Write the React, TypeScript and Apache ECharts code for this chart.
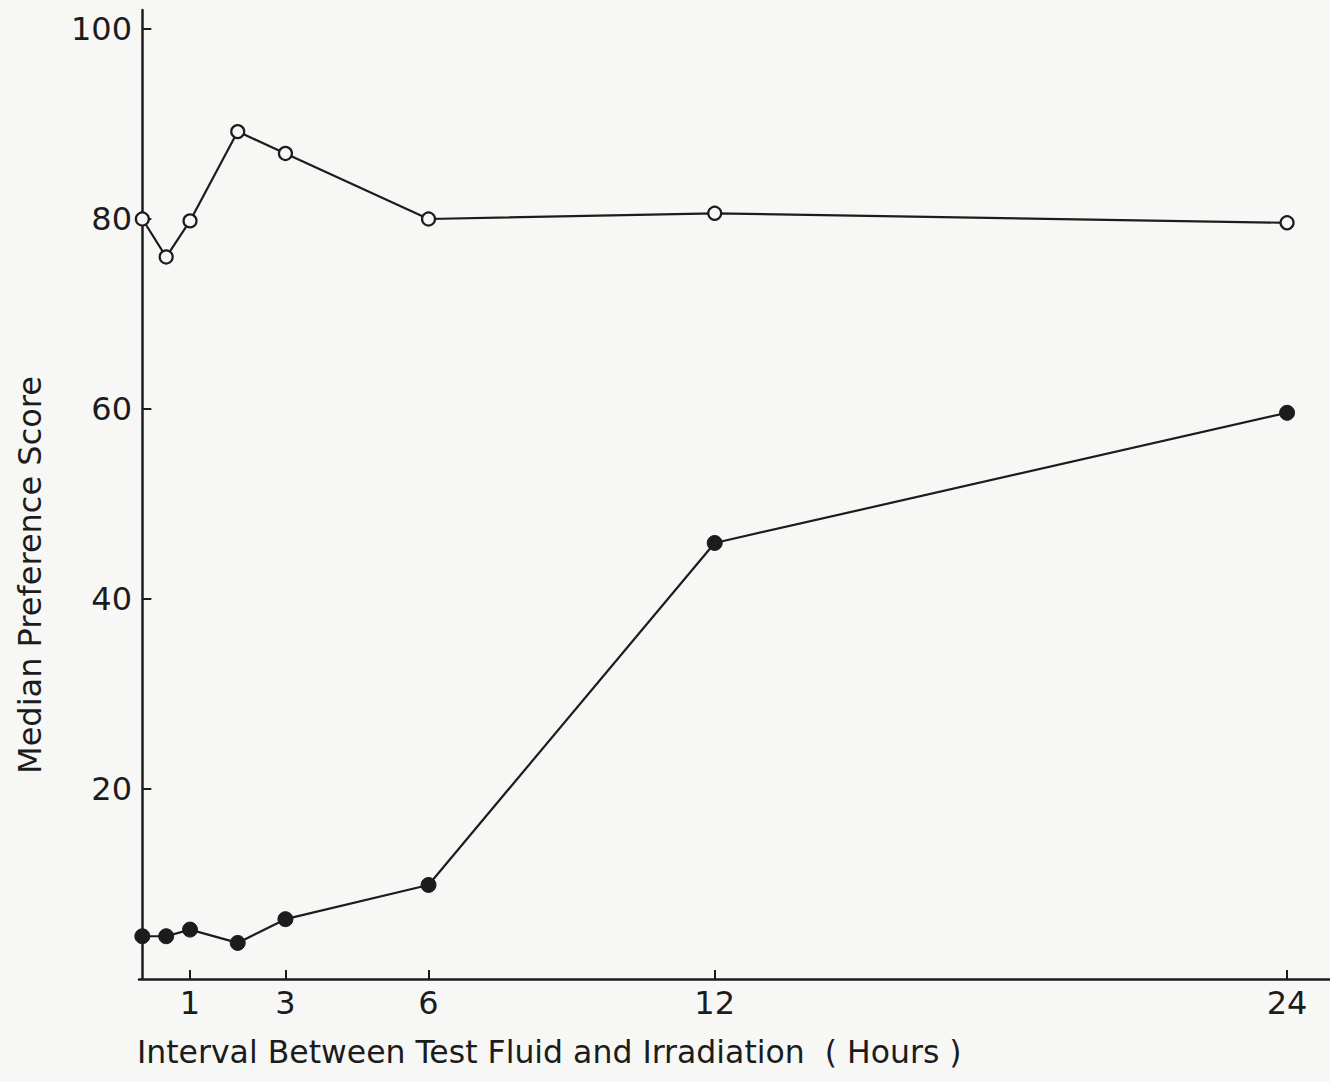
import React, { useEffect, useRef } from "react";
import * as echarts from "echarts";

const hours = [0, 0.5, 1, 2, 3, 6, 12, 24];
const openScores = [80.0, 76.0, 79.8, 89.2, 86.9, 80.0, 80.6, 79.6];
const filledScores = [4.5, 4.5, 5.2, 3.8, 6.3, 9.9, 45.9, 59.6];
const xTickValues = [1, 3, 6, 12, 24];
const yTickValues = [20, 40, 60, 80, 100];
const xTitle = "Interval Between Test Fluid and Irradiation  ( Hours )";
const yTitle = "Median Preference Score";

const INK = "#1c1c1c";
const FONT = "DejaVu Sans";

export default function App() {
  const ref = useRef<HTMLDivElement>(null);
  useEffect(() => {
    if (!ref.current) return;
    const chart = echarts.init(ref.current, null, { renderer: "svg" });
    const pair = (ys: number[]) => hours.map((h, i) => [h, ys[i]]);
    chart.setOption({
      animation: false,
      backgroundColor: "#f7f7f5",
      grid: { left: 139, right: 0, top: 10, bottom: 103, containLabel: false },
      xAxis: {
        type: "value",
        min: -0.07,
        max: 24.9,
        splitLine: { show: false },
        axisLine: { show: true, lineStyle: { color: INK, width: 2.5 } },
        axisTick: { show: true, inside: true, length: 9, customValues: xTickValues, lineStyle: { color: INK, width: 2 } },
        axisLabel: {
          customValues: xTickValues,
          margin: 8,
          color: INK,
          fontFamily: FONT,
          fontSize: 32,
        },
      },
      yAxis: {
        type: "value",
        min: 0,
        max: 102,
        splitLine: { show: false },
        axisLine: { show: true, lineStyle: { color: INK, width: 2.5 } },
        axisTick: { show: true, inside: true, length: 9, customValues: yTickValues, lineStyle: { color: INK, width: 2 } },
        axisLabel: {
          customValues: yTickValues,
          margin: 7,
          color: INK,
          fontFamily: FONT,
          fontSize: 32,
        },
      },
      graphic: [
        {
          type: "text",
          left: 137,
          top: 1036,
          style: { text: xTitle, fill: INK, font: `31.5px "${FONT}"` },
        },
        {
          type: "text",
          x: 30,
          y: 575,
          rotation: Math.PI / 2,
          style: { text: yTitle, fill: INK, font: `32px "${FONT}"`, align: "center", verticalAlign: "middle" },
        },
      ],
      series: [
        {
          type: "line",
          data: pair(openScores),
          symbol: "circle",
          symbolSize: 13,
          itemStyle: { color: "#f7f7f5", borderColor: INK, borderWidth: 2.2 },
          lineStyle: { color: INK, width: 2.2 },
          z: 3,
        },
        {
          type: "line",
          data: pair(filledScores),
          symbol: "circle",
          symbolSize: 15,
          itemStyle: { color: INK, borderColor: INK, borderWidth: 1 },
          lineStyle: { color: INK, width: 2.2 },
          z: 3,
        },
      ],
    });
    return () => chart.dispose();
  }, []);
  return <div ref={ref} style={{ position: "fixed", left: 0, top: 0, width: 1330, height: 1082 }} />;
}
